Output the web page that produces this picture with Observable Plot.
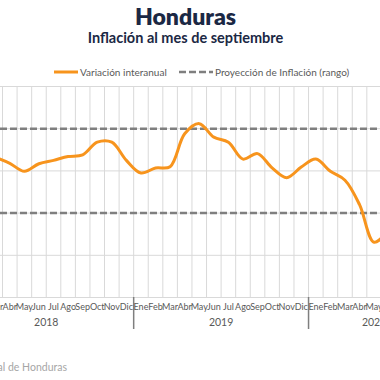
<!DOCTYPE html>
<html>
<head>
<meta charset="utf-8">
<script src="https://cdn.jsdelivr.net/npm/d3@7"></script>
<script src="https://cdn.jsdelivr.net/npm/@observablehq/plot@0.6"></script>
<style>
  html, body { margin: 0; padding: 0; background: #fff; }
  body { width: 380px; height: 380px; position: relative; overflow: hidden; font-family: Lato, "Noto Sans", sans-serif; }
  .abs { position: absolute; white-space: nowrap; }
  #title { top: 3px; left: 0; width: 371px; text-align: center; font-size: 23px; line-height: 26px; font-weight: 800; color: #1b2844; }
  #subtitle { top: 30px; left: 0; width: 371px; text-align: center; font-size: 14.5px; line-height: 16px; font-weight: 700; color: #1b2844; }
  .leg { top: 66px; font-size: 10px; line-height: 12px; color: #595959; display: flex; align-items: center; }
  .leg svg { display: block; margin-right: 2px; }
  #chart { top: 80px; left: 0; }
  #caption { top: 361px; right: 313px; font-size: 10.5px; line-height: 12px; color: #a6a6a6; }
</style>
</head>
<body>
<div id="title" class="abs">Honduras</div>
<div id="subtitle" class="abs">Inflación al mes de septiembre</div>
<div class="abs leg" style="left:54px"><svg width="24" height="6"><line x1="0" y1="3" x2="24" y2="3" stroke="#f7941d" stroke-width="3"/></svg>Variación interanual</div>
<div class="abs leg" style="left:179px"><svg width="34" height="6"><line x1="0" y1="3" x2="34" y2="3" stroke="#7f7f7f" stroke-width="2.5" stroke-dasharray="7,3"/></svg>Proyección de Inflación (rango)</div>
<div id="chart" class="abs"></div>
<div id="caption" class="abs">Fuente: Banco Central de Honduras</div>
<script>
// ---- data ----
const meses = ["Ene","Feb","Mar","Abr","May","Jun","Jul","Ago","Sep","Oct","Nov","Dic"];
const anios = [2018, 2019, 2020];
const mesesPorAnio = [12, 12, 9]; // 2020 runs to septiembre
const periodos = [
  "2018-03","2018-04","2018-05","2018-06","2018-07","2018-08","2018-09","2018-10","2018-11","2018-12",
  "2019-01","2019-02","2019-03","2019-04","2019-05","2019-06","2019-07","2019-08","2019-09","2019-10","2019-11","2019-12",
  "2020-01","2020-02","2020-03","2020-04","2020-05","2020-06"
];
const variacionInteranual = [
  4.32, 4.18, 3.99, 4.17, 4.25, 4.34, 4.38, 4.68, 4.68, 4.25,
  3.95, 4.07, 4.10, 4.88, 5.12, 4.80, 4.68, 4.28, 4.41, 4.07, 3.84, 4.09,
  4.28, 3.99, 3.78, 3.20, 2.31, 2.60
];
const rangoProyeccion = [3, 5];
const yTicks = [1, 2, 3, 4, 5, 6];

// ---- derived tables ----
const idx = (anio, mes) => (anio - anios[0]) * 12 + (mes - 1);
const serie = periodos.map((p, k) => {
  const [a, m] = p.split("-").map(Number);
  return {i: idx(a, m), v: variacionInteranual[k]};
});
const ejeMeses = [];
anios.forEach((a, j) => {
  for (let m = 1; m <= mesesPorAnio[j]; m++) ejeMeses.push({i: idx(a, m), label: meses[m - 1]});
});
const nMeses = ejeMeses.length;
const ejeAnios = anios.map((a, j) => ({
  i: idx(a, 1) + (mesesPorAnio[j] - 1) / 2, label: String(a)
}));
const cortesAnio = anios.slice(1).map(a => idx(a, 1) - 0.5);
const bordes = d3.range(nMeses + 1).map(k => k - 0.5);

const height = 260, marginTop = 6, marginBottom = 43;
const plotH = height - marginTop - marginBottom;

const chart = Plot.plot({
  width: 380,
  height,
  marginTop, marginBottom, marginLeft: 0, marginRight: 0,
  style: {overflow: "hidden", fontFamily: "Lato, 'Noto Sans', sans-serif", background: "white"},
  x: {type: "linear", domain: [-0.5, nMeses - 0.5], range: [-41.7, 439.2], axis: null},
  y: {domain: [1, 6], axis: null},
  marks: [
    Plot.ruleX(bordes, {x: d => d, stroke: "#d9d9d9", strokeWidth: 1}),
    Plot.ruleY(yTicks, {y: d => d, stroke: "#d9d9d9", strokeWidth: 1}),
    Plot.ruleY(rangoProyeccion, {y: d => d, stroke: "#7f7f7f", strokeWidth: 2.5, strokeDasharray: "7,3"}),
    Plot.ruleX(cortesAnio, {x: d => d, stroke: "#7f7f7f", strokeWidth: 1.5, insetTop: plotH, insetBottom: -32}),
    Plot.line(serie, {x: "i", y: "v", stroke: "#f7941d", strokeWidth: 3, curve: "catmull-rom"}),
    Plot.text(ejeMeses, {x: "i", text: "label", frameAnchor: "bottom", dy: 12, fontSize: 9, fill: "#595959"}),
    Plot.text(ejeAnios, {x: "i", text: "label", frameAnchor: "bottom", dy: 28, fontSize: 10.5, fill: "#595959"})
  ]
});
document.getElementById("chart").appendChild(chart);
</script>
</body>
</html>
